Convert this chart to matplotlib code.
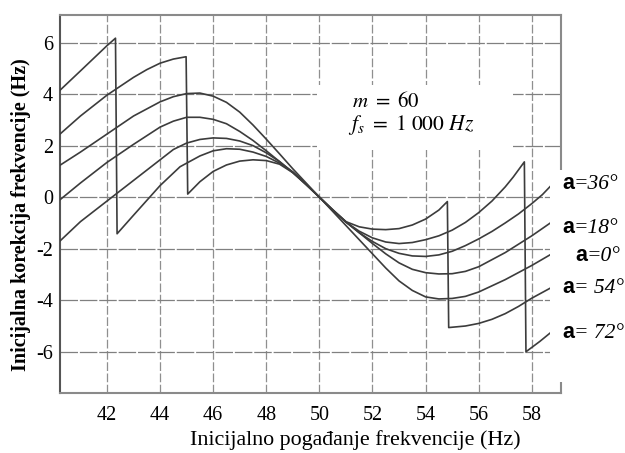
import matplotlib
matplotlib.use("Agg")
from matplotlib import pyplot as plt
from matplotlib.patches import Rectangle
from matplotlib.transforms import offset_copy

plt.rcParams['font.family'] = 'Liberation Serif'
plt.rcParams['mathtext.fontset'] = 'stix'
plt.rcParams['axes.unicode_minus'] = False

# curve data (x in Hz, y in Hz)
x_a0 = [40.23, 41, 42, 43, 44, 44.5, 45, 45.5, 46, 46.5, 47, 47.5, 48, 48.5, 49, 49.5, 50,
        50.5, 51, 51.5, 52, 52.5, 53, 53.5, 54, 54.5, 55, 55.5, 56, 57, 58, 58.75]
y_a0 = [1.24, 1.75, 2.45, 3.15, 3.7, 3.9, 4.02, 4.04, 3.92, 3.68, 3.3, 2.8, 2.25, 1.68, 1.1, 0.55, 0,
        -0.55, -1.1, -1.65, -2.2, -2.75, -3.25, -3.62, -3.87, -3.95, -3.93, -3.85, -3.68, -3.2, -2.65, -2.2]

x_a18 = [40.23, 41, 42, 43, 44, 44.5, 45, 45.5, 46, 46.5, 47, 47.5, 48, 48.5, 49, 49.5, 50,
         50.5, 51, 51.5, 52, 52.5, 53, 53.5, 54, 54.5, 55, 55.5, 56, 57, 58, 58.7]
y_a18 = [-0.1, 0.55, 1.35, 2.05, 2.72, 2.95, 3.1, 3.1, 3.02, 2.85, 2.55, 2.2, 1.8, 1.38, 0.95, 0.48, 0,
         -0.48, -0.95, -1.38, -1.8, -2.2, -2.55, -2.8, -2.93, -2.98, -2.97, -2.88, -2.7, -2.15, -1.5, -1.0]

x_a36 = [40.23, 41, 42, 43, 44, 44.5, 45, 45.5, 46, 46.5, 47, 47.5, 48, 48.5, 49, 49.5, 50,
         50.5, 51, 51.5, 52, 52.5, 53, 53.5, 54, 54.5, 55, 55.5, 56, 56.5, 57, 57.5, 58, 58.4, 58.8]
y_a36 = [-1.7, -0.95, -0.15, 0.65, 1.45, 1.85, 2.1, 2.24, 2.3, 2.28, 2.18, 2.0, 1.72, 1.38, 0.97, 0.5, 0,
         -0.5, -0.97, -1.38, -1.72, -2.0, -2.18, -2.28, -2.3, -2.24, -2.1, -1.88, -1.62, -1.33, -1.0, -0.65,
         -0.25, 0.1, 0.53]

x_a54 = [40.23, 41, 42, 43, 43.5, 44, 44.5, 44.98, 45.04, 45.5, 46, 46.5, 47, 47.5, 48, 48.5, 49, 49.5, 50,
         50.5, 51, 51.5, 52, 52.5, 53, 53.5, 54, 54.5, 54.82, 54.87, 55.5, 56, 56.5, 57, 57.5, 58, 58.75]
y_a54 = [2.45, 3.15, 3.96, 4.65, 4.95, 5.2, 5.36, 5.45, 0.12, 0.6, 1.0, 1.25, 1.4, 1.45, 1.42, 1.28, 0.95, 0.5, 0,
         -0.5, -0.95, -1.15, -1.24, -1.26, -1.22, -1.08, -0.85, -0.5, -0.17, -5.06, -5.0, -4.9, -4.74, -4.52,
         -4.24, -3.92, -3.5]

x_a72 = [40.23, 41, 42, 42.32, 42.38, 43, 44, 44.75, 45.5, 46, 46.5, 47, 47.5, 48, 48.5, 49, 49.5, 50,
         50.5, 51, 51.5, 52, 52.5, 53, 53.5, 54, 54.5, 55, 55.5, 56, 56.5, 57, 57.3, 57.72, 57.78, 58.3, 58.8]
y_a72 = [4.15, 4.9, 5.88, 6.17, -1.42, -0.7, 0.45, 1.18, 1.6, 1.8, 1.88, 1.86, 1.75, 1.58, 1.32, 0.98, 0.5, 0,
         -0.5, -0.97, -1.32, -1.58, -1.74, -1.8, -1.76, -1.65, -1.5, -1.28, -0.98, -0.6, -0.15, 0.4, 0.78,
         1.37, -6.0, -5.6, -5.18]

curves = [(x_a0, y_a0), (x_a18, y_a18), (x_a36, y_a36), (x_a54, y_a54), (x_a72, y_a72)]

x_ticks = [42, 44, 46, 48, 50, 52, 54, 56, 58]
y_ticks = [-6, -4, -2, 0, 2, 4, 6]

# right-hand curve labels: (rest of text, left px, baseline px)
alpha_labels = [('=36°', 562, 189), ('=18°', 562, 233), ('=0°', 575, 261),
                ('= 54°', 562, 293), ('= 72°', 562, 338)]

W, H = 625, 453
fig = plt.figure(figsize=(W / 100, H / 100), dpi=100)
ax = fig.add_axes([60 / W, 1 - 393 / H, 501 / W, 378 / H])

for xs, ys in curves:
    ax.plot(xs, ys, color='#3c3c3c', lw=1.2, zorder=3)

ax.set_xlim(40.23, 59.1)
ax.set_ylim(-7.6, 7.07)
ax.set_xticks(x_ticks)
ax.set_yticks(y_ticks)
ax.tick_params(length=0, labelsize=14.5)
ax.tick_params(axis='x', pad=9)
ax.tick_params(axis='y', pad=5)

ax.set_axisbelow(True)
ax.xaxis.grid(True, color='#8f8f8f', lw=0.9, ls=(0, (7, 2)))
ax.yaxis.grid(True, color='#808080', lw=0.9, ls=(0, (14, 1.5)))
for s in ax.spines.values():
    s.set_color('#8a8a8a')
    s.set_linewidth(1.5)
ax.spines['left'].set_color('#555555')

ax.set_xlabel('Inicijalno pogađanje frekvencije (Hz)', fontsize=15.8, va='center')
ax.xaxis.set_label_coords((355 - 60) / 501, (393 - 440) / 378)
ax.set_ylabel('Inicijalna korekcija frekvencije (Hz)', fontsize=14.5, fontweight='bold', va='center')
ax.yaxis.set_label_coords((21 - 60) / 501, (393 - 215) / 378)

# white box behind the parameter text
ax.add_patch(Rectangle((0.513, 0.643), 0.391, 0.172, transform=ax.transAxes,
                       facecolor='white', edgecolor='none', zorder=2))
ax.text((352 - 60) / 501, (393 - 107) / 378, r'$m\ =\ 60$', transform=ax.transAxes,
        fontsize=15, va='baseline', zorder=4)
ax.text((348 - 60) / 501, (393 - 130) / 378, r'$f_s\ =\ 1\ 000\ Hz$', transform=ax.transAxes,
        fontsize=15.5, va='baseline', zorder=4)

# white strip behind the curve labels on the right
fig.add_artist(Rectangle((550 / W, 1 - 382 / H), 75 / W, 212 / H, transform=fig.transFigure,
                         facecolor='white', edgecolor='none', zorder=5))
shifted = offset_copy(fig.transFigure, fig=fig, x=12, y=0, units='dots')
for rest, px, py in alpha_labels:
    fig.text(px / W, 1 - py / H, 'a', family='Liberation Sans', fontweight='bold',
             fontsize=15.5, ha='left', va='baseline', zorder=6)
    fig.text(px / W, 1 - py / H, rest, transform=shifted, fontsize=15.5, style='italic',
             ha='left', va='baseline', zorder=6)

fig.savefig('out.png', dpi=100)
